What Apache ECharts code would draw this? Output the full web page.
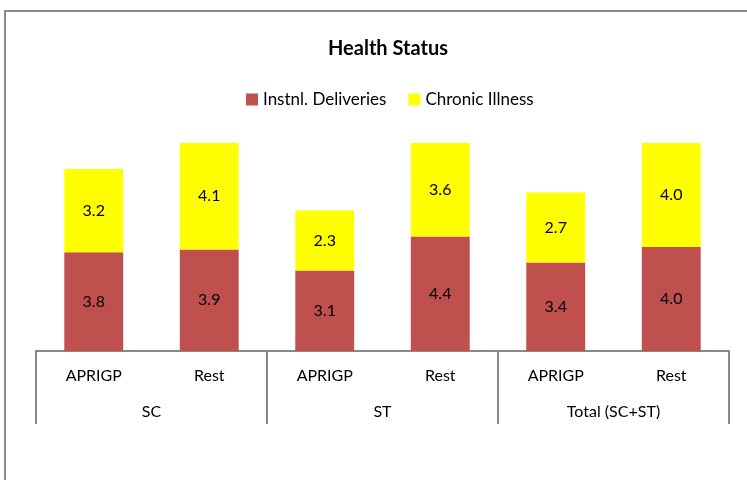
<!DOCTYPE html>
<html>
<head>
<meta charset="utf-8">
<script src="https://cdn.jsdelivr.net/npm/echarts@6/dist/echarts.min.js"></script>
<style>
  html, body { margin: 0; padding: 0; background: #fff; }
  #chart { width: 747px; height: 480px; }
</style>
</head>
<body>
<div id="chart"></div>
<script>
// data
let subCategories = ['APRIGP', 'Rest', 'APRIGP', 'Rest', 'APRIGP', 'Rest'];
let groupCategories = ['SC', 'ST', 'Total (SC+ST)'];
let deliveries = [3.8, 3.9, 3.1, 4.4, 3.4, 4.0];
let chronicIllness = [3.2, 4.1, 2.3, 3.6, 2.7, 4.0];

let fontFamily = 'Lato, "Open Sans", sans-serif';
let chart = echarts.init(document.getElementById('chart'));

let barLabel = {
    show: true,
    position: 'inside',
    color: '#000',
    fontSize: 16,
    fontFamily: fontFamily,
    formatter: function (p) {
        return p.value.toFixed(1);
    }
};

let option = {
    animation: false,
    title: {
        text: 'Health Status',
        left: 383,
        top: 34,
        textAlign: 'center',
        textStyle: { fontSize: 20, fontWeight: 'bold', color: '#000', fontFamily: fontFamily }
    },
    legend: {
        left: 241,
        top: 86,
        itemWidth: 12,
        itemHeight: 12,
        itemGap: 22,
        icon: 'rect',
        textStyle: { fontSize: 17, color: '#000', fontFamily: fontFamily },
        data: ['Instnl. Deliveries', 'Chronic Illness']
    },
    graphic: [{
        type: 'rect',
        shape: { x: 5, y: 11, width: 800, height: 520 },
        style: { fill: 'none', stroke: '#8a8a8a', lineWidth: 2 },
        silent: true
    }],
    grid: { left: 36, right: 18, top: 117, bottom: 129 },
    xAxis: [{
        type: 'category',
        data: subCategories,
        axisLine: { show: false },
        axisTick: { show: false },
        axisLabel: { margin: 17, fontSize: 16, color: '#000', fontFamily: fontFamily }
    }, {
        type: 'category',
        data: groupCategories,
        position: 'bottom',
        axisLine: { show: true, lineStyle: { color: '#888', width: 2 } },
        axisTick: { show: true, length: 73, lineStyle: { color: '#888', width: 2 } },
        axisLabel: { margin: 53, fontSize: 16, color: '#000', fontFamily: fontFamily }
    }],
    yAxis: {
        type: 'value',
        min: 0,
        max: 9,
        show: false,
        splitLine: { show: false }
    },
    series: [{
        name: 'Instnl. Deliveries',
        type: 'bar',
        stack: 'health',
        xAxisIndex: 0,
        barWidth: '51%',
        itemStyle: { color: '#C0504D' },
        label: barLabel,
        data: deliveries
    }, {
        name: 'Chronic Illness',
        type: 'bar',
        stack: 'health',
        xAxisIndex: 0,
        barWidth: '51%',
        itemStyle: { color: '#FFFF00' },
        label: barLabel,
        data: chronicIllness
    }]
};

chart.setOption(option);
</script>
</body>
</html>
